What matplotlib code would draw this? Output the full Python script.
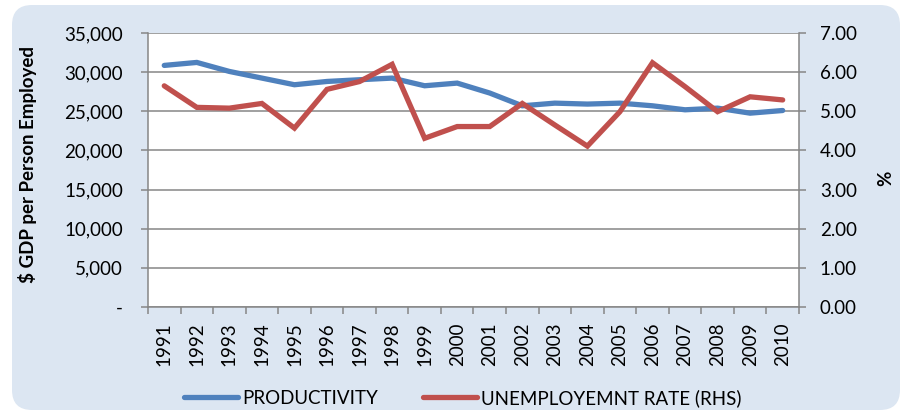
import matplotlib
matplotlib.use('Agg')
import matplotlib.pyplot as plt
from matplotlib.patches import FancyBboxPatch
from matplotlib.ticker import FuncFormatter, FixedLocator
import numpy as np

plt.rcParams['font.family'] = ['Lato', 'DejaVu Sans']

years = [str(y) for y in range(1991, 2011)]
productivity = [30860, 31240, 30090, 29240, 28390, 28810, 29030, 29240, 28260, 28600,
                27330, 25700, 26040, 25920, 26040, 25700, 25190, 25400, 24760, 25100]
unemployment = [5.65, 5.10, 5.08, 5.20, 4.57, 5.56, 5.76, 6.20, 4.31, 4.61,
                4.61, 5.20, 4.65, 4.11, 4.99, 6.24, 5.63, 4.99, 5.37, 5.29]

BLUE = '#4F81BD'
RED = '#C0504D'
GRID = '#868686'
PANEL = '#DCE6F2'
FS = 13.5

fig = plt.figure(figsize=(9.04, 4.12), dpi=100)
fig.patch.set_facecolor('white')

# rounded light-blue panel behind the chart (pixel coordinates)
panel = FancyBboxPatch((12, 2), 888, 405, boxstyle='round,pad=0,rounding_size=20',
                       transform=None, facecolor=PANEL, edgecolor='none', zorder=-1)
fig.patches.append(panel)

ax = fig.add_axes([0.1637, 0.2549, 0.7201, 0.665])
ax.set_facecolor('white')
x = np.arange(len(years))

ax.plot(x, productivity, color=BLUE, lw=3.8, solid_capstyle='round',
        solid_joinstyle='miter', label='PRODUCTIVITY')
ax.set_xlim(-0.5, len(years) - 0.5)
ax.set_ylim(0, 35000)
ax.set_yticks(np.arange(0, 35001, 5000))
ax.yaxis.set_major_formatter(FuncFormatter(lambda v, p: '-' if v == 0 else f'{v:,.0f}'))
ax.grid(axis='y', color=GRID, lw=1.1)
ax.set_axisbelow(True)

ax.set_xticks(x)
ax.set_xticklabels(years, rotation=90)
ax.xaxis.set_minor_locator(FixedLocator(np.arange(-0.5, len(years), 1)))
ax.tick_params(axis='x', which='major', length=0, pad=11, labelsize=FS, colors='black')
ax.tick_params(axis='x', which='minor', length=5, width=1.1, color=GRID, direction='out')
ax.tick_params(axis='y', length=5, width=1.1, color=GRID, direction='out', pad=13,
               labelsize=FS)

for side in ['left', 'bottom']:
    ax.spines[side].set_color(GRID)
    ax.spines[side].set_linewidth(1.1)
ax.spines['top'].set_visible(False)
ax.spines['right'].set_visible(False)

ax.set_ylabel('$ GDP per Person Employed', fontsize=FS, fontweight='bold')
ax.yaxis.set_label_coords(-0.1705, 0.52)

ax2 = ax.twinx()
ax2.plot(x, unemployment, color=RED, lw=3.8, solid_capstyle='round',
         solid_joinstyle='miter', label='UNEMPLOYEMNT RATE (RHS)')
ax2.set_ylim(0, 7)
ax2.set_yticks(np.arange(0, 7.01, 1))
ax2.yaxis.set_major_formatter(FuncFormatter(lambda v, p: f'{v:.2f}'))
ax2.tick_params(axis='y', length=5, width=1.1, color=GRID, direction='out', pad=10,
                labelsize=FS)
ax2.spines['right'].set_color(GRID)
ax2.spines['right'].set_linewidth(1.1)
for side in ['left', 'top', 'bottom']:
    ax2.spines[side].set_visible(False)
ax2.set_ylabel('%', fontsize=FS, fontweight='bold')
ax2.yaxis.set_label_coords(1.121, 0.47)

handles = ax.get_lines() + ax2.get_lines()
fig.legend(handles, [h.get_label() for h in handles], loc='center',
           bbox_to_anchor=(0.512, 0.034), ncol=2, frameon=False, fontsize=FS,
           handlelength=2.9, handletextpad=0.2, columnspacing=2.4)

fig.savefig('out.png', dpi=100)
